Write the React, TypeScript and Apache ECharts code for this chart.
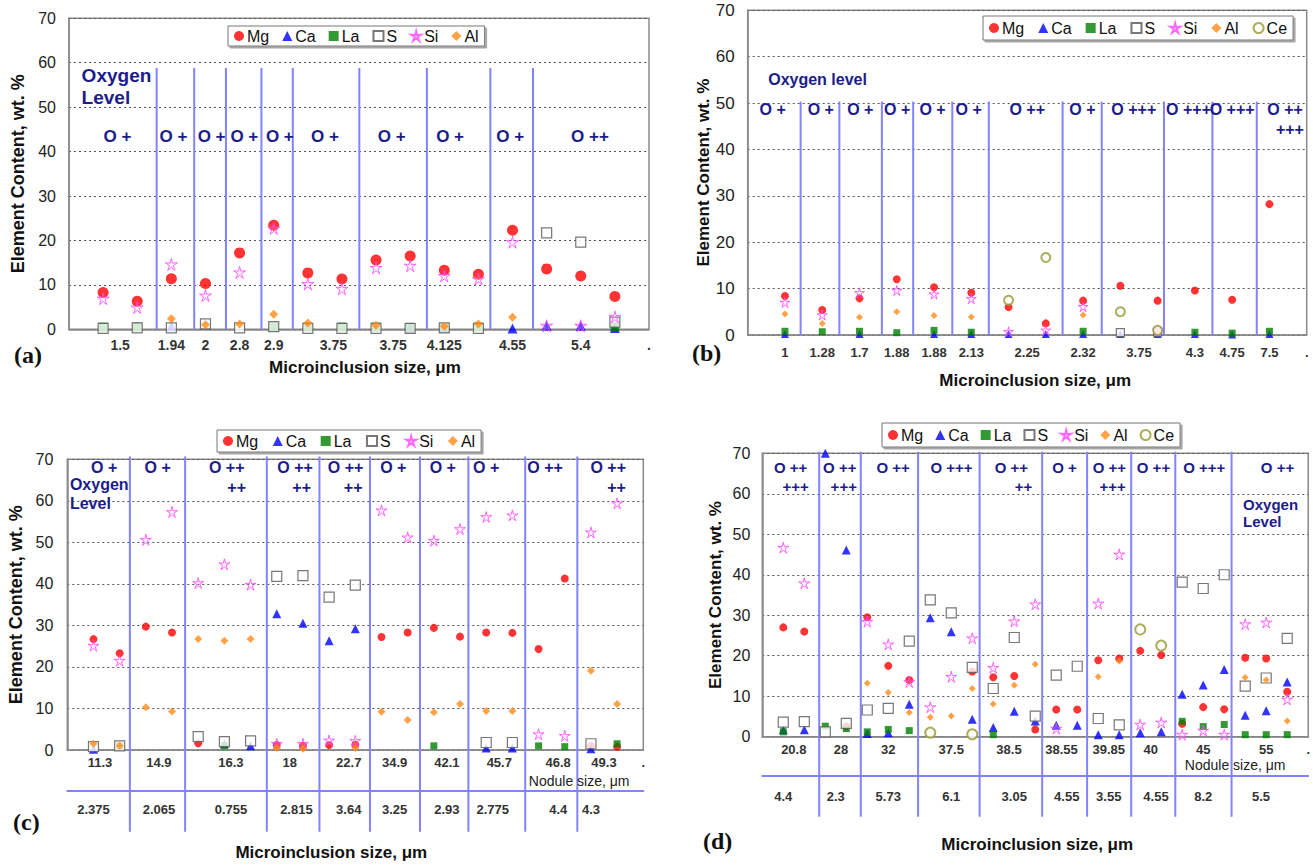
import { useEffect, useRef } from 'react';
import * as echarts from 'echarts';

const FONT = '"Liberation Sans", Arial, sans-serif';
const SERIF = '"Liberation Serif", "Times New Roman", serif';
const NAVY = '#1c1c8a';
const DIV = '#8383ff';

// ---------------- Panel (a) ----------------
const aMg = [8.3, 6.3, 11.4, 10.3, 17.2, 23.4, 12.7, 11.3, 15.6, 16.5, 13.3, 12.4, 22.3, 13.6, 12.0, 7.4];
const aCa = [null, null, 0.7, null, null, null, null, null, null, 0.3, 0.3, null, 0.2, 0.8, 0.8, 0.3];
const aLa = [0.5, 0.5, null, null, null, 0.6, 0.5, 0.5, 0.5, 0.4, 0.4, 0.5, null, null, null, 0.6];
const aS = [0.2, 0.3, 0.3, 1.2, 0.3, 0.6, 0.2, 0.2, 0.2, 0.2, 0.3, 0.2, null, 21.7, 19.6, 1.6];
const aSi = [6.9, 4.9, 14.6, 7.6, 12.8, 22.7, 10.2, 9.1, 13.8, 14.3, 12.0, 11.3, 19.6, 0.8, 0.8, 2.8];
const aAl = [null, null, 2.4, 1.0, 1.2, 3.4, 1.4, null, 0.9, null, 0.7, 1.2, 2.7, null, null, null];
const aTickPos = [1.5, 3, 4, 5, 6, 7.75, 9.5, 11, 13, 15, 17];
const aTickText = ['1.5', '1.94', '2', '2.8', '2.9', '3.75', '3.75', '4.125', '4.55', '5.4', '.'];
const aDividers = [2.57, 3.67, 4.6, 5.64, 6.56, 8.51, 10.49, 12.35, 13.6];
const aOxX = [1.42, 3.06, 4.18, 5.14, 6.18, 7.5, 9.46, 11.17, 12.93, 15.27];
const aOxText = ['O +', 'O +', 'O +', 'O +', 'O +', 'O +', 'O +', 'O +', 'O +', 'O ++'];

// ---------------- Panel (b) ----------------
const bMg = [8.4, 5.4, 7.9, 12.0, 10.3, 9.1, 6.0, 2.5, 7.4, 10.6, 7.4, 9.6, 7.6, 28.2];
const bCa = [0.2, null, 0.2, null, 0.2, 0.2, 0.2, 0.2, 0.2, 0.2, 0.2, 0.2, 0.1, 0.2];
const bLa = [0.8, 0.7, 0.8, 0.5, 1.0, 0.6, null, null, 0.8, null, null, 0.6, 0.4, 0.8];
const bS = [null, null, null, null, null, null, null, null, null, 0.5, 0.6, null, null, null];
const bSi = [7.0, 4.3, 9.1, 9.6, 8.8, 7.8, 0.7, 1.0, 6.1, null, 1.0, null, null, null];
const bAl = [4.5, 2.5, 3.8, 5.0, 4.2, 3.9, null, null, 4.3, null, 0.8, null, null, null];
const bCe = [null, null, null, null, null, null, 7.5, 16.7, null, 5.0, 1.0, null, null, null];
const bTickPos = [1, 2, 3, 4, 5, 6, 7.5, 9, 10.5, 12, 13, 14, 15];
const bTickText = ['1', '1.28', '1.7', '1.88', '1.88', '2.13', '2.25', '2.32', '3.75', '4.3', '4.75', '7.5', '.'];
const bDividers = [1.42, 2.46, 3.6, 4.44, 5.49, 6.47, 8.45, 9.5, 11.17, 12.47, 13.66];
const bOxX = [0.67, 1.96, 3.02, 4.01, 4.96, 5.93, 7.5, 8.98, 10.36, 11.83, 13.0, 14.42];
const bOxText = ['O +', 'O +', 'O +', 'O +', 'O +', 'O +', 'O ++', 'O +', 'O +++', 'O +++', 'O +++', 'O ++'];
const bOx2X = [14.55];
const bOx2Text = ['+++'];

// ---------------- Panel (c) ----------------
const cMg = [26.7, 23.3, 29.7, 28.3, 1.6, null, null, 1.2, 1.0, 1.2, 1.3, 27.2, 28.3, 29.4, 27.3, 28.3, 28.2, 24.3, 41.3, 1.0, 0.8];
const cCa = [0.2, null, null, null, null, 1.5, 1.0, 32.8, 30.5, 26.3, 29.2, null, null, null, null, 0.5, 0.5, null, null, 0.3, null];
const cLa = [null, 1.0, null, null, null, 1.0, null, null, null, null, null, null, null, 1.0, null, null, null, 1.0, 0.8, null, 1.5];
const cS = [0.8, 1.0, null, null, 3.2, 2.0, 2.2, 41.8, 42.0, 36.8, 39.7, null, null, null, null, 1.8, 1.8, null, null, 1.5, null];
const cSi = [25.1, 21.5, 50.6, 57.3, 40.2, 44.7, 39.8, 1.5, 1.5, 2.3, 2.2, 57.7, 51.2, 50.4, 53.2, 56.1, 56.5, 3.8, 3.4, 52.4, 59.4];
const cAl = [1.5, 1.0, 10.3, 9.3, 26.7, 26.3, 26.7, 0.5, 0.3, null, 0.5, 9.2, 7.2, 9.1, 11.1, 9.4, 9.4, null, null, 19.1, 11.1];
const cNodulePos = [1.25, 3.5, 6.25, 8.5, 10.75, 12.5, 14.5, 16.5, 18.75, 20.5, 22];
const cNoduleText = ['11.3', '14.9', '16.3', '18', '22.7', '34.9', '42.1', '45.7', '46.8', '49.3', '.'];
const cInclPos = [1, 3.5, 6.25, 8.75, 10.75, 12.5, 14.5, 16.25, 18.75, 20];
const cInclText = ['2.375', '2.065', '0.755', '2.815', '3.64', '3.25', '2.93', '2.775', '4.4', '4.3'];
const cDividers = [2.39, 4.5, 7.62, 9.63, 11.56, 13.47, 15.32, 17.49, 19.48];
const cOxX = [1.41, 3.45, 6.09, 8.7, 10.63, 12.45, 14.34, 16.0, 18.25, 20.66];
const cOxText = ['O +', 'O +', 'O ++', 'O ++', 'O ++', 'O +', 'O +', 'O +', 'O ++', 'O ++'];
const cOx2X = [6.47, 8.95, 10.92, 20.98];
const cOx2Text = ['++', '++', '++', '++'];

// ---------------- Panel (d) ----------------
const dMg = [27.0, 26.0, null, 2.6, 29.5, 17.5, 14.0, null, null, 16.1, 14.7, 15.0, 1.8, 6.7, 6.7, 18.9, 19.3, 21.2, 20.2, 3.2, 7.3, 6.8, 19.5, 19.3, 11.1];
const dCa = [1.7, 1.7, 70.0, 46.1, 0.8, 1.0, 8.0, 29.4, 25.9, 4.3, 2.3, 6.3, 3.9, 2.8, 2.8, 0.5, 0.5, 1.0, 1.2, 10.5, 12.8, 16.6, 5.3, 6.4, 13.5];
const dLa = [1.2, null, 2.6, 2.0, 1.2, 1.8, 1.5, null, null, null, 0.5, null, null, null, null, null, null, null, null, 3.8, 2.5, 3.0, 0.5, 0.5, 0.5];
const dS = [3.6, 3.7, 1.2, 3.3, 6.6, 7.0, 23.6, 33.8, 30.6, 17.1, 11.9, 24.5, 5.1, 15.2, 17.4, 4.5, 2.9, null, null, 38.2, 36.6, 40.0, 12.5, 14.5, 24.3];
const dSi = [46.7, 37.9, null, null, 28.4, 22.8, 13.5, 7.3, 14.8, 24.3, 17.0, 28.5, 32.7, 2.0, null, 32.9, 45.0, 3.0, 3.5, 0.5, 1.5, 0.5, 27.8, 28.2, 9.2];
const dAl = [null, null, null, null, 13.2, 10.9, 6.0, 4.8, 5.1, 11.9, 8.1, 12.7, 17.9, null, null, 14.8, 18.7, null, null, null, null, null, 14.6, 14.0, 3.9];
const dCe = [null, null, null, null, null, null, null, 1.0, null, 0.6, null, null, null, null, null, null, null, 26.5, 22.5, null, null, null, null, null, null];
const dNodulePos = [1.5, 3.75, 6, 9, 11.75, 14.25, 16.5, 18.5, 21, 24, 26];
const dNoduleText = ['20.8', '28', '32', '37.5', '38.5', '38.55', '39.85', '40', '45', '55', '.'];
const dInclPos = [1, 3.5, 6, 9, 12, 14.5, 16.5, 18.75, 21, 23.75];
const dInclText = ['4.4', '2.3', '5.73', '6.1', '3.05', '4.55', '3.55', '4.55', '8.2', '5.5'];
const dDividers = [2.71, 4.69, 7.42, 10.35, 13.33, 15.47, 17.57, 19.67, 22.35];
const dOxX = [1.35, 3.69, 6.23, 9.01, 11.86, 14.39, 16.53, 18.63, 21.05, 24.54];
const dOxText = ['O ++', 'O ++', 'O ++', 'O +++', 'O ++', 'O +', 'O ++', 'O ++', 'O +++', 'O ++'];
const dOx2X = [1.59, 3.88, 12.44, 16.69];
const dOx2Text = ['+++', '+++', '++', '+++'];

const STAR = 'path://M50,2 L59,38 L97,36 L65,57 L79,94 L50,70 L21,94 L35,57 L3,36 L41,38 Z';

const STYLE: Record<string, any> = {
  Mg: { symbol: 'circle', itemStyle: { color: '#ff0000' } },
  Ca: { symbol: 'triangle', itemStyle: { color: '#0000ff' } },
  La: { symbol: 'rect', itemStyle: { color: '#008000' } },
  S: { symbol: 'rect', itemStyle: { color: '#ffffff', borderColor: '#555555', borderWidth: 1.2 } },
  Si: { symbol: STAR, itemStyle: { color: 'rgba(255,200,255,0.25)', borderColor: '#ff44ff', borderWidth: 1 } },
  Al: { symbol: 'diamond', itemStyle: { color: '#ff8c1a' } },
  Ce: { symbol: 'emptyCircle', itemStyle: { color: '#999933', borderWidth: 2 } },
};

type Note = { x: number; y: number; text: string; size: number; align?: string; weight?: string; color?: string; lh?: number };

const oxNotes = (xs: number[], texts: string[], y: number, size: number): Note[] =>
  xs.map((x, i) => ({ x, y, text: texts[i], size }));

const PANELS: any[] = [
  {
    label: '(a)', labelPos: [14, 343],
    rect: { left: 69, top: 18.3, width: 580, height: 311 },
    xMax: 17, yFont: 16, yMargin: 13, yNameGap: 42, yNameSize: 18,
    data: { Mg: aMg, Ca: aCa, La: aLa, S: aS, Si: aSi, Al: aAl },
    sizes: { Mg: 11, Ca: 10, La: 9, S: 10, Si: 12, Al: 9 },
    ticks: [aTickPos, aTickText], tickFont: 14, tickMargin: 9,
    xName: 'Microinclusion size, μm', xNameGap: 30, xNamePad: [0, 0, 0, 12],
    dividers: aDividers, divTop: 58.8, divBottom: 0,
    notes: [
      ...oxNotes(aOxX, aOxText, 43.3, 17),
      { x: 0.37, y: 54.6, text: 'Oxygen\nLevel', size: 19, align: 'left', lh: 22 },
    ],
    legend: { left: 228, top: 26, itemGap: 13, padding: [2, 6, 2, 6] },
  },
  {
    label: '(b)', labelPos: [692, 341],
    rect: { left: 747.7, top: 10.2, width: 559, height: 324.8 },
    xMax: 15, yFont: 17, yMargin: 13, yNameGap: 31, yNameSize: 17,
    data: { Mg: bMg, Ca: bCa, La: bLa, S: bS, Si: bSi, Al: bAl, Ce: bCe },
    sizes: { Mg: 8, Ca: 8, La: 7, S: 8, Si: 10, Al: 7, Ce: 9 },
    ticks: [bTickPos, bTickText], tickFont: 13, tickMargin: 11,
    xName: 'Microinclusion size, μm', xNameGap: 37, xNamePad: [0, 0, 0, 16],
    dividers: bDividers, divTop: 50.3, divBottom: 0,
    notes: [
      ...oxNotes(bOxX, bOxText, 48.5, 16),
      ...oxNotes(bOx2X, bOx2Text, 44.3, 16),
      { x: 0.55, y: 55.1, text: 'Oxygen level', size: 16, align: 'left' },
    ],
    legend: { left: 983, top: 16, itemGap: 14, padding: [4, 6, 4, 6] },
  },
  {
    label: '(c)', labelPos: [13, 810],
    rect: { left: 67.3, top: 459.3, width: 576, height: 290.7 },
    xMax: 22, yFont: 16, yMargin: 14, yNameGap: 42, yNameSize: 18,
    data: { Mg: cMg, Ca: cCa, La: cLa, S: cS, Si: cSi, Al: cAl },
    sizes: { Mg: 8, Ca: 9, La: 7, S: 10, Si: 11, Al: 8 },
    ticks: [cNodulePos, cNoduleText], tickFont: 13, tickMargin: 6,
    ticks2: [cInclPos, cInclText], offset2: 41, margin2: 12,
    xName: 'Microinclusion size, μm', xNameGap: 53, xNamePad: [0, 48, 0, 0],
    dividers: cDividers, divTop: 70.7, divBottom: -19.7,
    notes: [
      ...oxNotes(cOxX, cOxText, 68.0, 16),
      ...oxNotes(cOx2X, cOx2Text, 63.3, 16),
      { x: 0.1, y: 61.6, text: 'Oxygen\nLevel', size: 16, align: 'left', lh: 19 },
      { x: 19.55, y: -7.4, text: 'Nodule size, μm', size: 14, weight: 'normal', color: '#222' },
    ],
    legend: { left: 217, top: 430, itemGap: 14.5, padding: [3, 6, 3, 6] },
  },
  {
    label: '(d)', labelPos: [703, 829],
    rect: { left: 762.3, top: 453.3, width: 546.7, height: 283.4 },
    xMax: 26, yFont: 16, yMargin: 12, yNameGap: 38, yNameSize: 17,
    data: { Mg: dMg, Ca: dCa, La: dLa, S: dS, Si: dSi, Al: dAl, Ce: dCe },
    sizes: { Mg: 8, Ca: 9, La: 7, S: 10, Si: 11, Al: 7, Ce: 10 },
    ticks: [dNodulePos, dNoduleText], tickFont: 13, tickMargin: 6,
    ticks2: [dInclPos, dInclText], offset2: 39.3, margin2: 14,
    xName: 'Microinclusion size, μm', xNameGap: 60, xNamePad: [0, 0, 0, 4],
    dividers: dDividers, divTop: 70.4, divBottom: -19.8,
    notes: [
      ...oxNotes(dOxX, dOxText, 66.4, 15),
      ...oxNotes(dOx2X, dOx2Text, 61.7, 15),
      { x: 22.9, y: 55.15, text: 'Oxygen\nLevel', size: 15, align: 'left', lh: 17 },
      { x: 22.52, y: -7.0, text: 'Nodule size, μm', size: 14, weight: 'normal', color: '#222' },
    ],
    legend: { left: 882, top: 423, itemGap: 12, padding: [4, 6, 4, 6] },
  },
];

const lookup = (pos: number[], txt: string[]) => (v: number) => {
  const k = pos.findIndex((p) => Math.abs(p - v) < 0.01);
  return k >= 0 ? txt[k] : '';
};

function buildOption() {
  const grid: any[] = [];
  const xAxis: any[] = [];
  const yAxis: any[] = [];
  const series: any[] = [];
  const legend: any[] = [];
  const graphic: any[] = [];

  PANELS.forEach((p, pi) => {
    grid.push({ ...p.rect, show: true, borderColor: '#8a8a8a', borderWidth: 1.5, containLabel: false });
    const xi = xAxis.length;
    const hasRow2 = !!p.ticks2;
    xAxis.push({
      type: 'value', gridIndex: pi, min: 0, max: p.xMax, interval: 0.25,
      axisLine: { show: true, onZero: false, lineStyle: { color: '#8a8a8a', width: 1.5 } },
      axisTick: { show: false }, splitLine: { show: false },
      axisLabel: {
        formatter: lookup(p.ticks[0], p.ticks[1]), fontSize: p.tickFont, fontWeight: 'bold',
        color: '#333', fontFamily: FONT, margin: p.tickMargin, showMinLabel: true, showMaxLabel: true,
      },
      ...(hasRow2 ? {} : {
        name: p.xName, nameLocation: 'middle', nameGap: p.xNameGap,
        nameTextStyle: { fontSize: 17, fontWeight: 'bold', color: '#111', fontFamily: FONT, padding: p.xNamePad },
      }),
    });
    if (hasRow2) {
      xAxis.push({
        type: 'value', gridIndex: pi, min: 0, max: p.xMax, interval: 0.25, position: 'bottom', offset: p.offset2,
        axisLine: { show: true, onZero: false, lineStyle: { color: DIV, width: 2 } },
        axisTick: { show: false }, splitLine: { show: false },
        axisLabel: {
          formatter: lookup(p.ticks2[0], p.ticks2[1]), fontSize: p.tickFont, fontWeight: 'bold',
          color: '#333', fontFamily: FONT, margin: p.margin2,
        },
        name: p.xName, nameLocation: 'middle', nameGap: p.xNameGap,
        nameTextStyle: { fontSize: 17, fontWeight: 'bold', color: '#111', fontFamily: FONT, padding: p.xNamePad },
      });
    }
    yAxis.push({
      type: 'value', gridIndex: pi, min: 0, max: 70, interval: 10,
      axisLine: { show: true, lineStyle: { color: '#8a8a8a', width: 1.5 } },
      axisTick: { show: false },
      axisLabel: { fontSize: p.yFont, color: '#222', fontFamily: FONT, margin: p.yMargin },
      splitLine: { show: true, lineStyle: { color: '#555', type: [2, 3], width: 1 } },
      name: 'Element Content, wt. %', nameLocation: 'middle', nameGap: p.yNameGap, nameRotate: 90,
      nameTextStyle: { fontSize: p.yNameSize, fontWeight: 'bold', color: '#111', fontFamily: FONT },
    });

    // dividers between oxygen-level groups
    series.push({
      type: 'custom', xAxisIndex: xi, yAxisIndex: pi, silent: true, clip: false, z: 1,
      data: p.dividers.map((x: number) => [x, p.divTop, p.divBottom]),
      renderItem: (params: any, api: any) => {
        const a = api.coord([api.value(0), api.value(1)]);
        const b = api.coord([api.value(0), api.value(2)]);
        return { type: 'line', shape: { x1: a[0], y1: a[1], x2: b[0], y2: b[1] }, style: { stroke: DIV, lineWidth: 2 } };
      },
    });

    const names = Object.keys(p.data);
    names.forEach((el) => {
      const vals: (number | null)[] = p.data[el];
      series.push({
        type: 'scatter', name: el, xAxisIndex: xi, yAxisIndex: pi, silent: true, clip: false, z: 3,
        symbol: STYLE[el].symbol, symbolSize: p.sizes[el], itemStyle: STYLE[el].itemStyle,
        data: vals.map((v, i) => (v == null ? null : [i + 1, v])).filter((d) => d !== null),
      });
    });

    // annotation texts
    const notes: Note[] = p.notes;
    series.push({
      type: 'custom', xAxisIndex: xi, yAxisIndex: pi, silent: true, clip: false, z: 4,
      data: notes.map((n) => [n.x, n.y]),
      renderItem: (params: any, api: any) => {
        const n = notes[params.dataIndex];
        const pt = api.coord([api.value(0), api.value(1)]);
        return {
          type: 'text', x: pt[0], y: pt[1],
          style: {
            text: n.text, fill: n.color || NAVY, fontSize: n.size, fontWeight: n.weight || 'bold',
            fontFamily: FONT, align: n.align || 'center', verticalAlign: 'middle', lineHeight: n.lh || n.size + 2,
          },
        };
      },
    });

    legend.push({
      data: names, left: p.legend.left, top: p.legend.top, orient: 'horizontal',
      itemGap: p.legend.itemGap, itemWidth: 10, itemHeight: 10, padding: p.legend.padding,
      borderColor: '#777', borderWidth: 1, backgroundColor: '#fff',
      shadowColor: 'rgba(0,0,0,0.35)', shadowOffsetX: 2, shadowOffsetY: 2, shadowBlur: 1,
      textStyle: { fontSize: 16, color: '#111', fontFamily: FONT, padding: [0, 0, 0, -2] },
      selectedMode: false,
    });

    graphic.push({
      type: 'text', left: p.labelPos[0], top: p.labelPos[1],
      style: { text: p.label, fontSize: 24, fontWeight: 'bold', fontFamily: SERIF, fill: '#111' },
    });
  });

  return { animation: false, backgroundColor: '#fff', grid, xAxis, yAxis, series, legend, graphic };
}

export default function App() {
  const ref = useRef<HTMLDivElement>(null);
  useEffect(() => {
    const chart = echarts.init(ref.current as HTMLDivElement, null, { renderer: 'svg' });
    chart.setOption(buildOption() as any);
    return () => chart.dispose();
  }, []);
  return <div ref={ref} style={{ position: 'absolute', left: 0, top: 0, width: 1313, height: 865, background: '#fff' }} />;
}
